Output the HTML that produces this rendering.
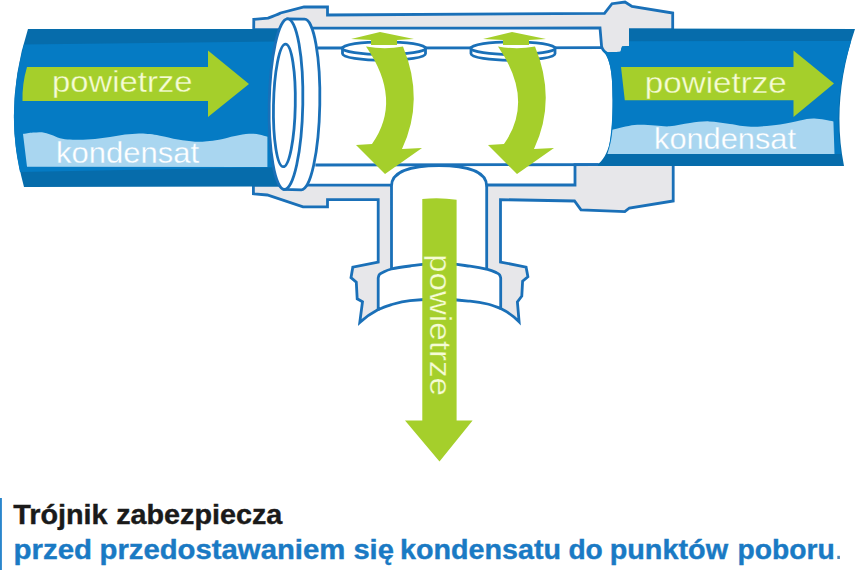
<!DOCTYPE html>
<html><head><meta charset="utf-8">
<style>
html,body{margin:0;padding:0;background:#fff;}
body{width:859px;height:570px;overflow:hidden;position:relative;font-family:"Liberation Sans",sans-serif;}
svg{position:absolute;left:0;top:0;display:block;}
text{font-family:"Liberation Sans",sans-serif;}
</style></head><body>
<svg width="859" height="570" viewBox="0 0 859 570">
<defs>
<g id="carrow">
  <!-- curved double arrow, drawn around hole centre x=384 -->
  <path d="M380 32 L414 39 L397 40 L397 45 L371 45 L371 40 L351 39 Z" fill="#a5cf2b"/>
  <path d="M366 46.5 Q385 50 403 46.5 Q425 100 402 149 L422 148 L385 174 L356 145 L372 144 Q403 100 366 46.5 Z" fill="#a5cf2b"/>
</g>
</defs>

<!-- FITTING BODY -->
<g fill="#e7e7ea" stroke="#1a70b8" stroke-width="2.8" stroke-linejoin="miter">
  <!-- top wall with both collars -->
  <path d="M253.8 19.3 L268 18.1 Q276.6 15.1 280.6 13 L304 7 L327.5 7 L327.5 15 L604.5 13.3 L612 3.7 L625 2 L632 6.5 L672.7 13 L672.7 30 L630.4 29.9 L630.4 47.4 L623.4 48 L621.9 53.2 L607.5 53.8 Q602.8 51 601.6 46.6 L600 28 L306 28.2 L306 29.7 L253.7 29.7 Z"/>
  <!-- bottom-left collar + branch left wall -->
  <path d="M253.4 185.2 L391.5 185.2 L391.5 292 L378.2 309.6 Q368 315 359.8 322.4 L362.5 301.8 L357.2 298.8 L356.3 282.1 L351 277.7 L352.8 267.2 L378.2 262 L378.2 199.6 L327.5 199.6 L327.5 206.9 L303 206.9 L267.3 195 L253.4 193.8 Z"/>
  <!-- bottom-right collar + branch right wall -->
  <path d="M575 164.6 L673.2 164.6 L673.2 201 L629.4 208 L624.8 211.7 L581 209.8 L574.5 201 L500.5 199.6 L500.5 262 L526.1 267.2 L527.9 276.8 L522.6 281.2 L521.8 296.1 L517.4 301.8 L519.1 321.8 Q511 313.5 500.7 308.5 L486.7 292 L486.7 185 L575 185 Z"/>
</g>

<!-- LEFT PIPE -->
<path d="M28 29.1 L300 29.1 L300 186.5 L24 187 Q2 110 28 29.1 Z" fill="#066cab"/>
<path d="M24 44.4 L300 41.2 L300 166.8 L20 172 Q6 110 24 44.4 Z" fill="#057bc4"/>
<!-- kondensat left -->
<path d="M23.0 134.0 C24.7 133.8 29.8 132.9 33.0 132.6 C36.2 132.3 39.0 131.9 42.0 132.3 C45.0 132.7 48.0 133.8 51.0 134.8 C54.0 135.8 56.8 137.4 60.0 138.2 C63.2 139.0 66.7 139.3 70.0 139.6 C73.3 139.9 75.4 139.9 79.6 139.8 C83.8 139.7 89.9 139.4 95.0 138.9 C100.1 138.4 105.0 137.7 110.0 137.0 C115.0 136.3 120.2 135.2 125.0 134.6 C129.8 134.0 134.8 133.5 139.0 133.4 C143.2 133.3 146.5 133.6 150.0 134.0 C153.5 134.4 155.3 134.8 160.0 135.7 C164.7 136.6 172.2 138.5 178.0 139.5 C183.8 140.5 190.2 141.4 195.0 141.7 C199.8 142.0 203.0 141.5 207.0 141.2 C211.0 140.9 214.3 140.6 219.0 139.7 C223.7 138.8 230.0 137.0 235.0 136.0 C240.0 135.0 245.0 134.1 249.0 133.8 C253.0 133.6 255.9 134.0 259.0 134.5 C262.1 135.0 266.0 136.3 267.4 136.7 L267.4 167 L27 166.7 Z" fill="#a9d6f0"/>
<!-- arrow left -->
<path d="M27 67 L208 67 L208 50.5 L249 84 L208 117 L208 101 L22.5 101 Q22 84 27 67 Z" fill="#a5cf2b"/>
<text x="52" y="92.3" font-size="30" fill="#f6fcd4" stroke="#a5cf2b" stroke-width="0.3" textLength="140.5" lengthAdjust="spacingAndGlyphs">powietrze</text>
<text x="56" y="162.8" font-size="30" fill="#ffffff" stroke="#a9d6f0" stroke-width="0.3" textLength="143" lengthAdjust="spacingAndGlyphs">kondensat</text>

<!-- RIGHT PIPE -->
<path d="M629 28.5 L855 29 Q831 100 844 166 L596 166 C611 155 612.6 135 612.6 100 C612.6 75 611 60 602.5 49.5 L607.5 52.4 L620.5 51.8 L622 46.6 L629 46 Z" fill="#066cab"/>
<path d="M629 41.3 L851 41 Q832.5 100 841 154 L607.4 154 C611 140 612.6 120 612.6 100 C612.6 75 611 60 602.5 49.5 L607.5 52.4 L620.5 51.8 L622 46.6 L629 46 Z" fill="#057bc4"/>
<!-- kondensat right -->
<path d="M612.4 129.8 C616.4 128.8 627.7 125.8 634.5 125.1 C641.3 124.4 649.1 125.3 655.0 125.5 C660.9 125.7 663.9 126.7 669.7 126.3 C675.5 125.9 683.5 123.8 690.0 123.0 C696.5 122.2 702.3 121.2 709.0 121.4 C715.7 121.6 723.0 123.1 730.0 124.0 C737.0 124.9 742.7 126.6 751.0 126.7 C759.3 126.8 771.8 125.5 780.0 124.5 C788.2 123.5 794.2 121.5 800.0 120.5 C805.8 119.5 808.9 118.4 814.5 118.6 C820.1 118.8 830.2 120.9 833.4 121.4 L834.5 154 L607.4 154 C610 146 612 138 612.4 129.8 Z" fill="#a9d6f0"/>
<!-- arrow right -->
<path d="M621 67 L793.5 67 L793.5 50.5 L834 83.5 L793.5 117 L793.5 100.3 L624.8 100.3 Z" fill="#a5cf2b"/>
<text x="644.8" y="92.5" font-size="30" fill="#f6fcd4" stroke="#a5cf2b" stroke-width="0.3" textLength="142" lengthAdjust="spacingAndGlyphs">powietrze</text>
<text x="654" y="148.5" font-size="29" fill="#ffffff" stroke="#a9d6f0" stroke-width="0.3" textLength="142" lengthAdjust="spacingAndGlyphs">kondensat</text>

<!-- inner tube lines -->
<g fill="none" stroke="#1a70b8" stroke-width="2.8">
  <path d="M317.4 48 L602 47.7"/>
  <path d="M315.4 165 L598 164.6"/>
  <!-- bore top arch -->
  <path d="M391.5 187 L391.5 186 C391.5 172 410 165.6 439 165.6 C468 165.6 486.6 172 486.6 186 L486.6 187" fill="#fff"/>
</g>
<!-- holes -->
<g fill="#fff" stroke="#1a70b8" stroke-width="2.8">
  <path d="M342.5 48.2 L342.5 53.8 A41.5 6.5 0 0 0 425.5 53.8 L425.5 48.2 Z"/>
  <ellipse cx="384" cy="48.2" rx="41.5" ry="6.4"/>
  <path d="M471 48.2 L471 53.8 A42 6.5 0 0 0 555 53.8 L555 48.2 Z"/>
  <ellipse cx="513" cy="48.2" rx="42" ry="6.4"/>
</g>
<!-- ring -->
<g fill="#fff" stroke="#1a70b8" stroke-width="2.8" transform="rotate(1.1 293 104.3)">
  <path d="M286 19 L303 19 A16.8 85.3 0 0 1 303 189.6 L286 189.6 Z"/>
  <ellipse cx="286" cy="104.3" rx="16.8" ry="85.3"/>
  <ellipse cx="284.4" cy="105.6" rx="10.9" ry="61.3"/>
</g>
<!-- curved arrows -->
<use href="#carrow"/>
<use href="#carrow" x="132"/>

<!-- nut ring at branch bottom -->
<path d="M378.2 278.0 C378.4 277.4 378.6 275.5 379.3 274.6 C380.0 273.7 380.6 273.4 382.6 272.5 C384.6 271.6 386.8 270.1 391.4 269.0 C396.0 267.9 401.9 267.0 410.0 266.0 C418.1 265.0 430.0 263.2 440.0 263.2 C450.0 263.2 462.1 265.2 470.0 266.2 C477.9 267.2 483.1 268.3 487.5 269.4 C491.9 270.5 494.5 271.8 496.5 272.7 C498.5 273.6 498.9 273.9 499.6 274.8 C500.3 275.7 500.5 277.5 500.7 278.0 L500.7 308.5 C498.5 307.8 492.6 305.2 487.5 304.0 C482.4 302.8 477.9 302.0 470.0 301.2 C462.1 300.4 450.0 299.1 440.0 299.0 C430.0 298.9 418.1 299.7 410.0 300.6 C401.9 301.5 396.7 303.1 391.4 304.6 C386.1 306.1 380.4 308.8 378.2 309.6 Z" fill="#fff" stroke="#1a70b8" stroke-width="2.8" stroke-linejoin="round"/>
<!-- down arrow -->
<path d="M422.3 199 Q440 197.2 456.6 199.8 L456.6 420.5 L472.6 420.5 L439.5 461.6 L405 420.5 L422.3 420.5 Z" fill="#a5cf2b"/>
<text transform="translate(429.5 254) rotate(90)" font-size="30" fill="#f6fcd4" stroke="#a5cf2b" stroke-width="0.3" textLength="142" lengthAdjust="spacingAndGlyphs">powietrze</text>

<!-- caption -->
<rect x="0" y="498" width="1.9" height="72" fill="#2a86cc"/>
<g font-size="27.5" font-weight="bold" fill="#1a1a1a" stroke="#1a1a1a" stroke-width="0.4">
<text x="13.2" y="524" textLength="94.4" lengthAdjust="spacingAndGlyphs">Trójnik</text>
<text x="116.2" y="524" textLength="166.1" lengthAdjust="spacingAndGlyphs">zabezpiecza</text>
</g>
<g font-size="27.5" font-weight="bold" fill="#1a7ac4" stroke="#1a7ac4" stroke-width="0.4">
<text x="13.6" y="559" textLength="78.5" lengthAdjust="spacingAndGlyphs">przed</text>
<text x="99.5" y="559" textLength="245.8" lengthAdjust="spacingAndGlyphs">przedostawaniem</text>
<text x="353.4" y="559" textLength="40.5" lengthAdjust="spacingAndGlyphs">się</text>
<text x="400.1" y="559" textLength="161.0" lengthAdjust="spacingAndGlyphs">kondensatu</text>
<text x="568.4" y="559" textLength="34.4" lengthAdjust="spacingAndGlyphs">do</text>
<text x="609.7" y="559" textLength="118.4" lengthAdjust="spacingAndGlyphs">punktów</text>
<text x="737.5" y="559" textLength="97.2" lengthAdjust="spacingAndGlyphs">poboru</text>
</g>
<rect x="837.3" y="555.8" width="2.6" height="3.2" fill="#4f86b4"/>
</svg>
</body></html>
